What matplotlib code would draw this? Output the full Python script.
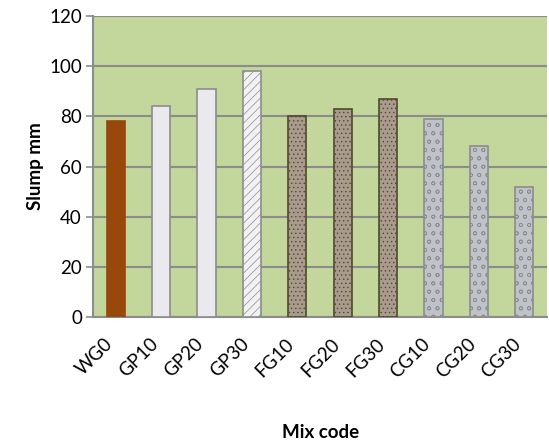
import matplotlib.pyplot as plt

mix_codes = ["WG0", "GP10", "GP20", "GP30", "FG10", "FG20", "FG30", "CG10", "CG20", "CG30"]
slump = [78, 84, 91, 98, 80, 83, 87, 79, 68, 52]

face_colors = ["#98480A"] + ["#EAEAEE"] * 2 + ["#F2F2F4"] + ["#A99C8E"] * 3 + ["#BFC2C8"] * 3
edge_colors = ["#98480A"] + ["#8C8C8C"] * 3 + ["#4F4A2C"] * 3 + ["#8C8C8C"] * 3
hatches = [None, None, None, "////", "....", "....", "....", "oo", "oo", "oo"]

plt.rcParams['font.family'] = ['Lato', 'DejaVu Sans']
plt.rcParams['hatch.linewidth'] = 0.5
plt.rcParams['hatch.color'] = "#7A7670"

fig = plt.figure(figsize=(5.49, 4.45), dpi=100)
ax = fig.add_axes([0.1694, 0.2876, 0.8270, 0.6764])
ax.set_facecolor("#C3D69B")

x = range(len(mix_codes))
bars = ax.bar(x, slump, width=0.4, color=face_colors, edgecolor=edge_colors,
              linewidth=1.2, zorder=3)
for b, h in zip(bars, hatches):
    if h:
        b.set_hatch(h)

ax.set_ylim(0, 120)
ax.set_yticks(range(0, 121, 20))
ax.set_xlim(-0.5, len(mix_codes) - 0.5)
ax.set_xticks(list(x))
ax.set_xticklabels(mix_codes, rotation=45, ha="right", va="top", fontsize=13.5)
ax.tick_params(axis="x", length=0, pad=13)
ax.tick_params(axis="y", length=5, width=1.2, color="#8C8C8C", labelsize=13.5, pad=3)

ax.grid(axis="y", color="#8C8C8C", linewidth=1.5, zorder=0)
ax.set_axisbelow(True)
for side in ["top", "right"]:
    ax.spines[side].set_visible(False)
for side in ["left", "bottom"]:
    ax.spines[side].set_color("#8C8C8C")
    ax.spines[side].set_linewidth(1.5)

ax.set_ylabel("Slump mm", fontsize=13.5, fontweight="bold", labelpad=4)
fig.text(0.583, 0.027, "Mix code", fontsize=13.5, fontweight="bold", ha="center", va="center")

plt.savefig("out.png", dpi=100)
